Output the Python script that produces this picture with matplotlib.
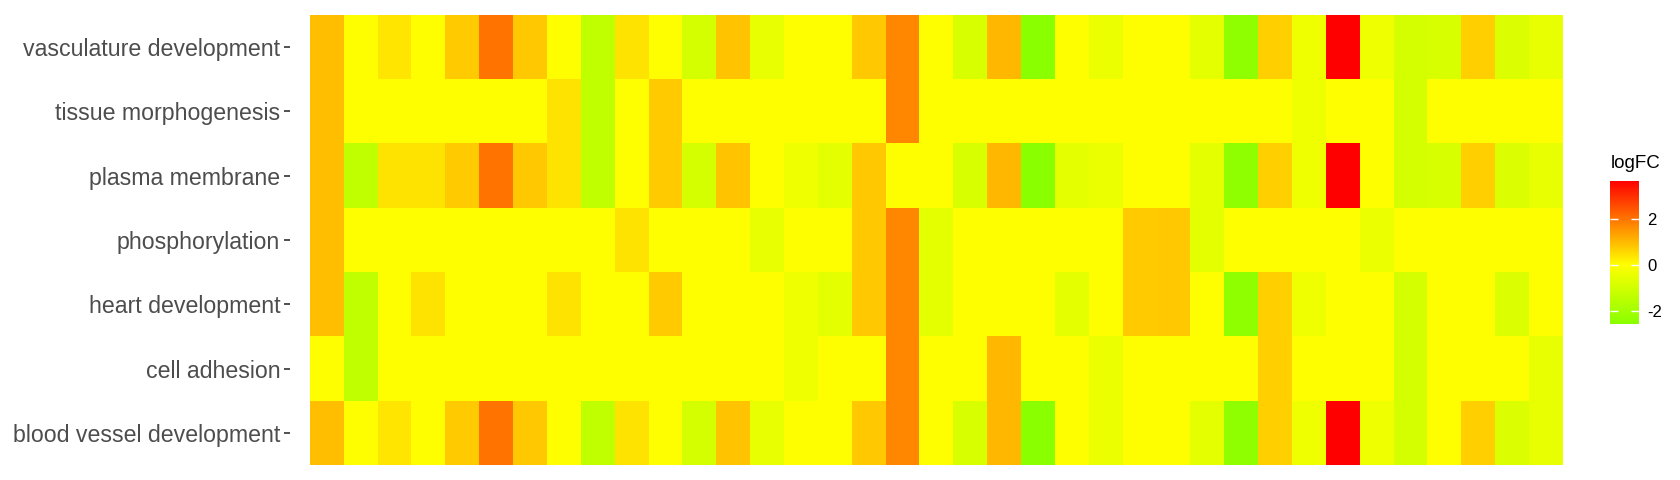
import numpy as np
import matplotlib
matplotlib.use("Agg")
import matplotlib.pyplot as plt
from matplotlib.colors import LinearSegmentedColormap, Normalize
from matplotlib.colorbar import ColorbarBase

plt.rcParams['font.family'] = ['Liberation Sans', 'DejaVu Sans']

# GO terms, top to bottom
terms = ["vasculature development", "tissue morphogenesis", "plasma membrane",
         "phosphorylation", "heart development", "cell adhesion",
         "blood vessel development"]

# logFC per gene (37 genes), one list per term
vasculature = [0.91, 0, 0.36, 0, 0.74, 2.0, 0.79, 0, -1.38, 0.39, 0, -0.94, 0.85, -0.51, 0, 0, 0.79, 1.72, 0,
               -0.86, 1.02, -2.57, 0, -0.42, 0, 0, -0.59, -2.44, 0.68, -0.33, 3.68, -0.33, -0.94, -0.86, 0.68, -0.77, -0.51]
tissue = [0.91, 0, 0, 0, 0, 0, 0, 0.39, -1.38, 0, 0.74, 0, 0, 0, 0, 0, 0, 1.72, 0,
          0, 0, 0, 0, 0, 0, 0, 0, 0, 0, -0.33, 0, 0, -0.94, 0, 0, 0, 0]
plasma = [0.91, -1.38, 0.39, 0.39, 0.74, 2.0, 0.79, 0.39, -1.38, 0, 0.74, -0.94, 0.85, 0, -0.33, -0.59, 0.79, 0, 0,
          -0.86, 1.02, -2.57, -0.59, -0.42, 0, 0, -0.59, -2.44, 0.68, -0.33, 3.68, 0, -0.94, -0.86, 0.68, -0.77, -0.51]
phospho = [0.91, 0, 0, 0, 0, 0, 0, 0, 0, 0.39, 0, 0, 0, -0.51, 0, 0, 0.79, 1.72, -0.59,
           0, 0, 0, 0, 0, 0.74, 0.79, -0.59, 0, 0, 0, 0, -0.42, 0, 0, 0, 0, 0]
heart = [0.91, -1.38, 0, 0.39, 0, 0, 0, 0.39, 0, 0, 0.74, 0, 0, 0, -0.33, -0.59, 0.79, 1.72, -0.59,
         0, 0, 0, -0.59, 0, 0.74, 0.79, 0, -2.44, 0.68, -0.33, 0, 0, -0.94, 0, 0, -0.77, 0]
adhesion = [0, -1.38, 0, 0, 0, 0, 0, 0, 0, 0, 0, 0, 0, 0, -0.33, 0, 0, 1.72, 0,
            0, 1.02, 0, 0, -0.42, 0, 0, 0, 0, 0.68, 0, 0, 0, -0.94, 0, 0, 0, -0.51]
blood = [0.91, 0, 0.36, 0, 0.74, 2.0, 0.79, 0, -1.38, 0.39, 0, -0.94, 0.85, -0.51, 0, 0, 0.79, 1.72, 0,
         -0.86, 1.02, -2.57, 0, -0.42, 0, 0, -0.59, -2.44, 0.68, -0.33, 3.68, -0.33, -0.94, 0, 0.68, -0.77, -0.51]

data = np.array([vasculature, tissue, plasma, phospho, heart, adhesion, blood])
vmin, vmax = data.min(), data.max()
mid = (0 - vmin) / (vmax - vmin)
cmap = LinearSegmentedColormap.from_list("logfc", [(0, "#8AFF00"), (mid, "#FFFF00"), (1, "#FF0000")])
norm = Normalize(vmin=vmin, vmax=vmax)

fig = plt.figure(figsize=(16.8, 4.8), dpi=100)
W, H = 1680, 480
ax = fig.add_axes([290 / W, 1 - 465 / H, (1583 - 290) / W, 450 / H])
ncol = data.shape[1]
ax.imshow(data, cmap=cmap, norm=norm, aspect='auto', interpolation='nearest')
ax.set_xlim(-1.1, ncol - 1 + 1.1)
ax.set_ylim(len(terms) - 0.5, -0.5)
ax.set_yticks(range(len(terms)))
ax.set_yticklabels(terms, fontsize=16.7, color='#4D4D4D')
ax.set_xticks([])
ax.tick_params(axis='y', length=4, width=1.2, color='#333333', pad=3)
for s in ax.spines.values():
    s.set_visible(False)

# colour bar legend
cax = fig.add_axes([1610 / W, 1 - 324 / H, 29 / W, 143.5 / H])
cb = ColorbarBase(cax, cmap=cmap, norm=norm, orientation='vertical')
cb.outline.set_visible(False)
cb.set_ticks([-2, 0, 2])
cb.set_ticklabels(['-2', '0', '2'])
cax.yaxis.set_ticks_position('both')
cax.tick_params(direction='in', length=6, width=1, color='white', labelsize=12,
                labelcolor='black', labelleft=False, labelright=True, pad=6)
fig.text(1611 / W, 1 - 163 / H, "logFC", fontsize=13.5, ha='left', va='center')

fig.savefig("out.png", dpi=100)
